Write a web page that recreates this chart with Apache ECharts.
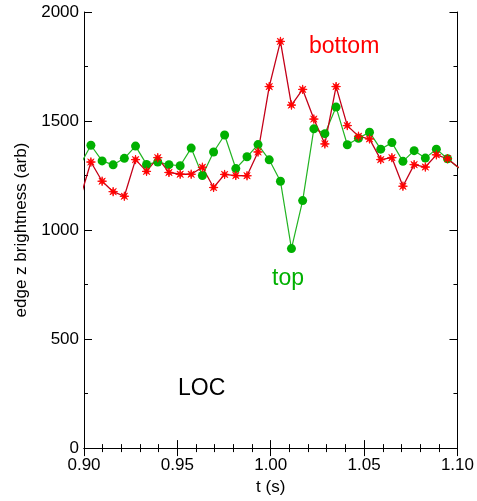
<!DOCTYPE html>
<html>
<head>
<meta charset="utf-8">
<script src="https://cdn.jsdelivr.net/npm/echarts@6/dist/echarts.min.js"></script>
<style>
html,body{margin:0;padding:0;background:#fff;}
#chart{width:477px;height:501px;}
</style>
</head>
<body>
<div id="chart"></div>
<script>
// time samples (s)
var times = [0.8977,0.9037,0.9097,0.9156,0.9216,0.9276,0.9335,0.9395,0.9455,0.9515,
             0.9574,0.9634,0.9694,0.9753,0.9813,0.9873,0.9932,0.9992,1.0052,1.0111,
             1.0171,1.0231,1.0290,1.0350,1.0410,1.0470,1.0529,1.0589,1.0649,1.0708,
             1.0768,1.0828,1.0887,1.0947,1.1007];
// bottom edge brightness (red)
var bottom = [1140,1312,1224,1176,1155,1323,1269,1332,1264,1256,
              1256,1288,1195,1255,1250,1249,1358,1658,1865,1573,
              1645,1509,1395,1658,1479,1430,1418,1323,1332,1201,
              1300,1289,1345,1327,1286];
// top edge brightness (green)
var top_ = [1295,1389,1317,1299,1329,1385,1301,1312,1300,1295,
            1376,1250,1358,1436,1282,1336,1392,1322,1224,915,
            1135,1464,1442,1564,1391,1421,1449,1371,1401,1315,
            1364,1330,1371,1327,1284];
var xTicks = [0.90,0.95,1.00,1.05,1.10];
var yTicks = [0,500,1000,1500,2000];

function pairs(ys){ return times.map(function(t,i){ return [t, ys[i]]; }); }

var FONT = 'Liberation Sans, Arial, Helvetica, sans-serif';
var chart = echarts.init(document.getElementById('chart'), null, {renderer:'canvas'});
var axisLine = {show:true, lineStyle:{color:'#000', width:1}};
var asterisk = 'path://M10,5L6.663,5.689L8.536,8.536L5.689,6.663L5,10L4.311,6.663L1.464,8.536L3.337,5.689L0,5L3.337,4.311L1.464,1.464L4.311,3.337L5,0L5.689,3.337L8.536,1.464L6.663,4.311Z';

chart.setOption({
  animation:false,
  backgroundColor:'#fff',
  grid:{left:84, right:18, top:12, bottom:49, containLabel:false},
  xAxis:[{
    type:'value', min:xTicks[0], max:xTicks[xTicks.length-1], interval:0.05,
    position:'bottom',
    name:'t (s)', nameLocation:'middle', nameGap:22,
    nameTextStyle:{fontFamily:FONT, fontSize:17, color:'#000'},
    axisLine:axisLine,
    axisTick:{show:true, inside:true, length:8, lineStyle:{color:'#000'}},
    minorTick:{show:true, splitNumber:5, length:4, lineStyle:{color:'#000'}},
    axisLabel:{fontFamily:FONT, fontSize:17, color:'#000', margin:9,
      formatter:function(v){return v.toFixed(2);}},
    splitLine:{show:false}
  },{
    type:'value', min:xTicks[0], max:xTicks[xTicks.length-1], interval:0.05,
    position:'top',
    axisLine:axisLine,
    axisTick:{show:true, inside:true, length:8, lineStyle:{color:'#000'}},
    minorTick:{show:true, splitNumber:5, length:4, lineStyle:{color:'#000'}},
    axisLabel:{show:false}, splitLine:{show:false}
  }],
  yAxis:[{
    type:'value', min:yTicks[0], max:yTicks[yTicks.length-1], interval:500,
    position:'left',
    name:'edge z brightness (arb)', nameLocation:'middle', nameGap:43, nameRotate:90,
    nameTextStyle:{fontFamily:FONT, fontSize:17, color:'#000'},
    axisLine:axisLine,
    axisTick:{show:true, inside:true, length:8, lineStyle:{color:'#000'}},
    minorTick:{show:true, splitNumber:2, length:4, lineStyle:{color:'#000'}},
    axisLabel:{fontFamily:FONT, fontSize:17, color:'#000', margin:5,
      formatter:function(v){return String(v);}},
    splitLine:{show:false}
  },{
    type:'value', min:yTicks[0], max:yTicks[yTicks.length-1], interval:500,
    position:'right',
    axisLine:axisLine,
    axisTick:{show:true, inside:true, length:8, lineStyle:{color:'#000'}},
    minorTick:{show:true, splitNumber:2, length:4, lineStyle:{color:'#000'}},
    axisLabel:{show:false}, splitLine:{show:false}
  }],
  series:[{
    name:'top', type:'line', xAxisIndex:0, yAxisIndex:0,
    data:pairs(top_), clip:true,
    symbol:'circle', symbolSize:9,
    lineStyle:{color:'#22b422', width:1.2},
    itemStyle:{color:'#00b000'}
  },{
    name:'bottom', type:'line', xAxisIndex:0, yAxisIndex:0,
    data:pairs(bottom), clip:true,
    symbol:asterisk, symbolSize:9, symbolKeepAspect:true,
    lineStyle:{color:'#c40018', width:1.3},
    itemStyle:{color:'#ff0000', borderColor:'#ff0000', borderWidth:0.8}
  }],
  graphic:[
    {type:'text', left:309, top:35, style:{text:'bottom', fill:'#ff0000', font:'23px '+FONT}},
    {type:'text', left:272, top:267, style:{text:'top', fill:'#00b000', font:'23px '+FONT}},
    {type:'text', left:178, top:377, style:{text:'LOC', fill:'#000', font:'23px '+FONT}}
  ]
});
</script>
</body>
</html>
